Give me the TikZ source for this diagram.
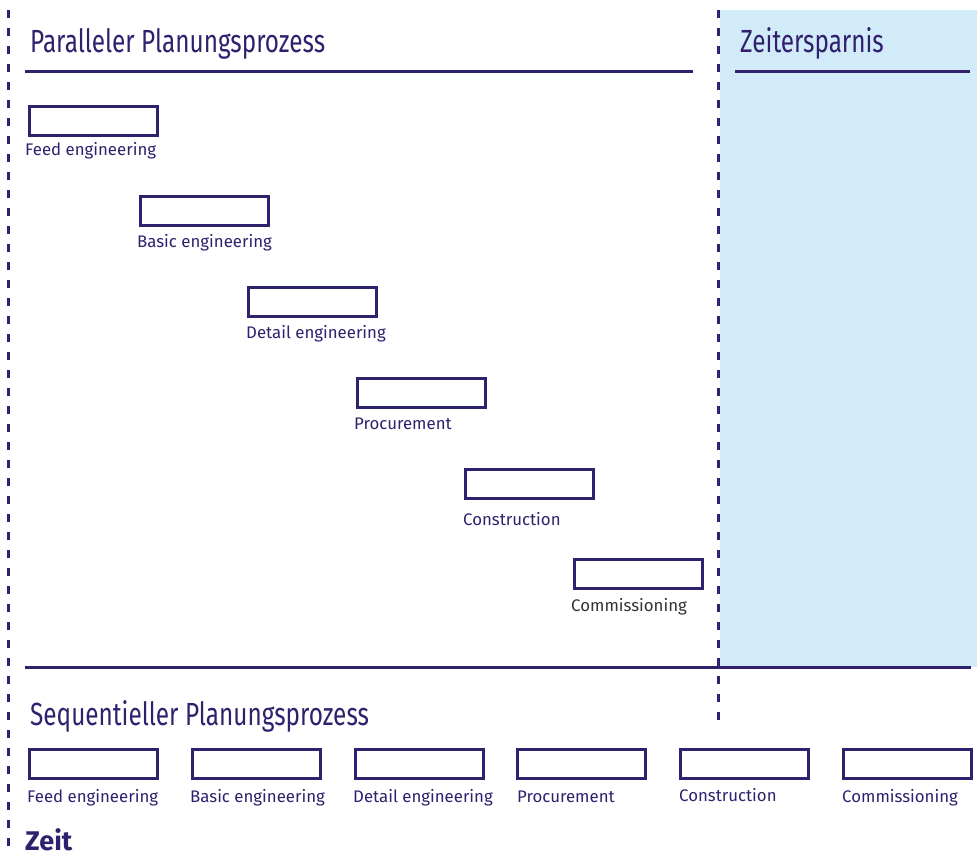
\documentclass[tikz,border=0pt]{standalone}
\usepackage{fontspec}
\setmainfont{Fira Sans}
\newfontfamily\ttlfont[FakeStretch=0.76]{Fira Sans}
\definecolor{dpurple}{HTML}{30206E}
\definecolor{lblue}{HTML}{D1EBF9}
\definecolor{dgrey}{HTML}{333333}
\begin{document}
\begin{tikzpicture}[x=1pt,y=-1pt,
  bar/.style={draw=dpurple,line width=3pt,minimum width=128pt,minimum height=29pt,inner sep=0pt,anchor=north west},
  lbl/.style={text=dpurple,font=\fontsize{16.8}{19}\selectfont,inner sep=0pt,anchor=base west},
  ttl/.style={text=dpurple,font=\ttlfont\fontsize{32}{36}\selectfont,inner sep=0pt,anchor=base west},
  rule/.style={draw=dpurple,line width=3pt},
  dline/.style={draw=dpurple,line width=3pt,dash pattern=on 8pt off 10pt}]
\useasboundingbox (0,0) rectangle (977,855);
\fill[lblue] (720,10) rectangle (977,667);
% dashed lines
\coordinate (l1) at (8,10); \coordinate (l2) at (8,855);
\coordinate (r1) at (718.5,10); \coordinate (r2) at (718.5,724);
\draw[dline] (l1) -- (l2);
\draw[dline] (r1) -- (r2);
% titles
\node[ttl] (pt) at (30,52) {Paralleler Planungsprozess};
\node[ttl] (zt) at (740,52) {Zeitersparnis};
\coordinate (a1) at (25,71); \coordinate (a2) at (693,71);
\coordinate (b1) at (735,71); \coordinate (b2) at (970,71);
\draw[rule] (a1) -- (a2);
\draw[rule] (b1) -- (b2);
% parallel bars
\node[bar] (p1) at (27.5,104.5) {};
\node[bar] (p2) at (138.5,194.5) {};
\node[bar] (p3) at (247,285.5) {};
\node[bar] (p4) at (355.5,376.5) {};
\node[bar] (p5) at (464,467.5) {};
\node[bar] (p6) at (572.5,557.5) {};
\node[lbl] (pl1) at (25,155) {Feed engineering};
\node[lbl] (pl2) at (137,247) {Basic engineering};
\node[lbl] (pl3) at (246,338) {Detail engineering};
\node[lbl] (pl4) at (354,429) {Procurement};
\node[lbl] (pl5) at (463,525) {Construction};
\node[lbl,text=dgrey] (pl6) at (571,611) {Commissioning};
% separator
\coordinate (c1) at (25,667); \coordinate (c2) at (971,667);
\draw[rule] (c1) -- (c2);
% sequential
\node[ttl] (st) at (30,725) {Sequentieller Planungsprozess};
\node[bar] (s1) at (27.5,747.5) {};
\node[bar] (s2) at (190.5,747.5) {};
\node[bar] (s3) at (353.5,747.5) {};
\node[bar] (s4) at (516,747.5) {};
\node[bar] (s5) at (679,747.5) {};
\node[bar] (s6) at (842,747.5) {};
\node[lbl] (sl1) at (27,802) {Feed engineering};
\node[lbl] (sl2) at (190,802) {Basic engineering};
\node[lbl] (sl3) at (353,802) {Detail engineering};
\node[lbl] (sl4) at (517,802) {Procurement};
\node[lbl] (sl5) at (679,801) {Construction};
\node[lbl] (sl6) at (842,802) {Commissioning};
\node[text=dpurple,font=\bfseries\fontsize{27}{31}\selectfont,inner sep=0pt,anchor=base west] (zeit) at (25,850) {Zeit};
\end{tikzpicture}
\end{document}
